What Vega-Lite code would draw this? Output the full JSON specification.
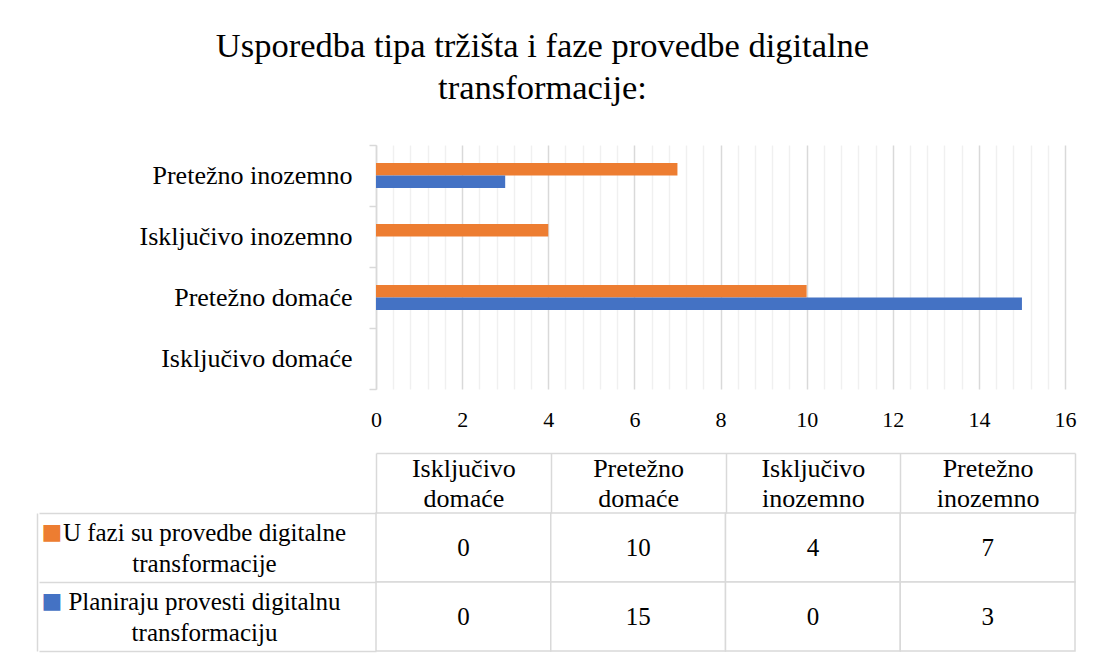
{
  "$schema": "https://vega.github.io/schema/vega-lite/v6.json",
  "padding": {"left": 37, "top": 28, "right": 10, "bottom": 10},
  "background": "white",
  "title": {
    "text": ["Usporedba tipa tržišta i faze provedbe digitalne", "transformacije:"],
    "font": "Liberation Serif",
    "fontSize": 34.5,
    "fontWeight": "normal",
    "color": "#000000",
    "lineHeight": 42,
    "anchor": "middle",
    "frame": "bounds",
    "offset": 26,
    "dx": -14
  },
  "config": {
    "font": "Liberation Serif",
    "view": {"stroke": null},
    "text": {"font": "Liberation Serif"},
    "axis": {"labelFont": "Liberation Serif", "labelColor": "#000000", "title": null, "labelLimit": 500}
  },
  "datasets": {
    "d": [
      {"trziste": "Isključivo domaće", "faza": "U fazi su provedbe digitalne transformacije", "broj": 0},
      {"trziste": "Isključivo domaće", "faza": "Planiraju provesti digitalnu transformaciju", "broj": 0},
      {"trziste": "Pretežno domaće", "faza": "U fazi su provedbe digitalne transformacije", "broj": 10},
      {"trziste": "Pretežno domaće", "faza": "Planiraju provesti digitalnu transformaciju", "broj": 15},
      {"trziste": "Isključivo inozemno", "faza": "U fazi su provedbe digitalne transformacije", "broj": 4},
      {"trziste": "Isključivo inozemno", "faza": "Planiraju provesti digitalnu transformaciju", "broj": 0},
      {"trziste": "Pretežno inozemno", "faza": "U fazi su provedbe digitalne transformacije", "broj": 7},
      {"trziste": "Pretežno inozemno", "faza": "Planiraju provesti digitalnu transformaciju", "broj": 3}
    ]
  },
  "spacing": 22,
  "vconcat": [
    {
      "width": 689,
      "height": 244,
      "data": {"name": "d"},
      "mark": {"type": "bar"},
      "encoding": {
        "y": {
          "field": "trziste",
          "type": "nominal",
          "sort": ["Pretežno inozemno", "Isključivo inozemno", "Pretežno domaće", "Isključivo domaće"],
          "scale": {"paddingInner": 0, "paddingOuter": 0},
          "axis": {
            "title": null,
            "domain": true,
            "domainColor": "#d9d9d9",
            "domainWidth": 1.5,
            "ticks": true,
            "tickBand": "extent",
            "tickSize": 7,
            "tickColor": "#d9d9d9",
            "tickWidth": 1.5,
            "labelFont": "Liberation Serif",
            "labelColor": "#000000",
            "labelLimit": 500,
            "labelFontSize": 26,
            "labelPadding": 17,
            "grid": false
          }
        },
        "x": {
          "field": "broj",
          "type": "quantitative",
          "scale": {"domain": [0, 16], "nice": false},
          "axis": {
            "title": null,
            "values": [0, 0.4, 0.8, 1.2, 1.6, 2, 2.4, 2.8, 3.2, 3.6, 4, 4.4, 4.8, 5.2, 5.6, 6, 6.4, 6.8, 7.2, 7.6, 8, 8.4, 8.8, 9.2, 9.6, 10, 10.4, 10.8, 11.2, 11.6, 12, 12.4, 12.8, 13.2, 13.6, 14, 14.4, 14.8, 15.2, 15.6, 16],
            "labelExpr": "abs(datum.value / 2 - round(datum.value / 2)) < 0.01 ? format(datum.value, 'd') : ''",
            "labelOverlap": false,
            "labelFlush": false,
            "labelFont": "Liberation Serif",
            "labelColor": "#000000",
            "domain": false,
            "ticks": false,
            "tickSize": 0,
            "labelFontSize": 22,
            "labelPadding": 20,
            "grid": true,
            "gridWidth": 1.5,
            "gridColor": {
              "condition": {"test": "abs(datum.value / 2 - round(datum.value / 2)) < 0.01", "value": "#d9d9d9"},
              "value": "#f0f0f0"
            }
          }
        },
        "yOffset": {
          "field": "faza",
          "type": "nominal",
          "sort": ["U fazi su provedbe digitalne transformacije", "Planiraju provesti digitalnu transformaciju"],
          "scale": {"paddingInner": 0, "paddingOuter": 0, "range": [18, 43]}
        },
        "color": {
          "field": "faza",
          "type": "nominal",
          "scale": {
            "domain": ["U fazi su provedbe digitalne transformacije", "Planiraju provesti digitalnu transformaciju"],
            "range": ["#ED7D31", "#4472C4"]
          },
          "legend": null
        }
      }
    },
    {
      "width": 699,
      "height": 138,
      "data": {"name": "d"},
      "layer": [
        {
          "mark": {"type": "rect", "fill": "white", "stroke": "#d9d9d9", "strokeWidth": 1.5},
          "encoding": {
            "x": {
              "field": "trziste",
              "type": "nominal",
              "sort": ["Isključivo domaće", "Pretežno domaće", "Isključivo inozemno", "Pretežno inozemno"],
              "scale": {"paddingInner": 0, "paddingOuter": 0},
              "axis": {
                "orient": "top",
                "title": null,
                "offset": 60,
                "domain": true,
                "domainColor": "#d9d9d9",
                "domainWidth": 1.5,
                "ticks": true,
                "tickBand": "extent",
                "tickSize": -60,
                "tickColor": "#d9d9d9",
                "tickWidth": 1.5,
                "labelExpr": "split(datum.label, ' ')",
                "labelFont": "Liberation Serif",
                "labelColor": "#000000",
                "labelLimit": 500,
                "labelFontSize": 26,
                "labelLineHeight": 30,
                "labelBaseline": "middle",
                "labelPadding": 45,
                "labelAngle": 0,
                "grid": false
              }
            },
            "y": {
              "field": "faza",
              "type": "nominal",
              "sort": ["U fazi su provedbe digitalne transformacije", "Planiraju provesti digitalnu transformaciju"],
              "scale": {"paddingInner": 0, "paddingOuter": 0},
              "axis": {
                "orient": "left",
                "title": null,
                "domain": false,
                "ticks": true,
                "tickBand": "extent",
                "tickSize": 337,
                "tickColor": "#d9d9d9",
                "tickWidth": 1.5,
                "labelExpr": "[slice(datum.label, 0, lastindexof(datum.label, ' ')), slice(datum.label, lastindexof(datum.label, ' ') + 1)]",
                "labelFont": "Liberation Serif",
                "labelColor": "#000000",
                "labelLimit": 500,
                "labelFontSize": 25,
                "labelLineHeight": 31,
                "labelAlign": "center",
                "labelBaseline": "middle",
                "labelPadding": -165,
                "labelOffset": -15,
                "grid": false
              }
            }
          }
        },
        {
          "mark": {"type": "text", "fontSize": 25, "font": "Liberation Serif", "color": "#000000"},
          "encoding": {
            "x": {
              "field": "trziste",
              "type": "nominal",
              "sort": ["Isključivo domaće", "Pretežno domaće", "Isključivo inozemno", "Pretežno inozemno"]
            },
            "y": {
              "field": "faza",
              "type": "nominal",
              "sort": ["U fazi su provedbe digitalne transformacije", "Planiraju provesti digitalnu transformaciju"],
              "axis": {
                "orient": "left",
                "title": null,
                "offset": 339,
                "domain": true,
                "domainColor": "#d9d9d9",
                "domainWidth": 1.5,
                "ticks": false,
                "tickSize": 0,
                "labelExpr": "'■'",
                "labelFont": "DejaVu Sans",
                "labelFontSize": 22,
                "labelAlign": "left",
                "labelBaseline": "middle",
                "labelPadding": -4,
                "labelOffset": -16,
                "labelColor": {
                  "condition": {"test": "datum.value == 'U fazi su provedbe digitalne transformacije'", "value": "#ED7D31"},
                  "value": "#4472C4"
                },
                "grid": false
              }
            },
            "text": {"field": "broj", "type": "quantitative"}
          }
        }
      ],
      "resolve": {"axis": {"y": "independent"}}
    }
  ]
}
